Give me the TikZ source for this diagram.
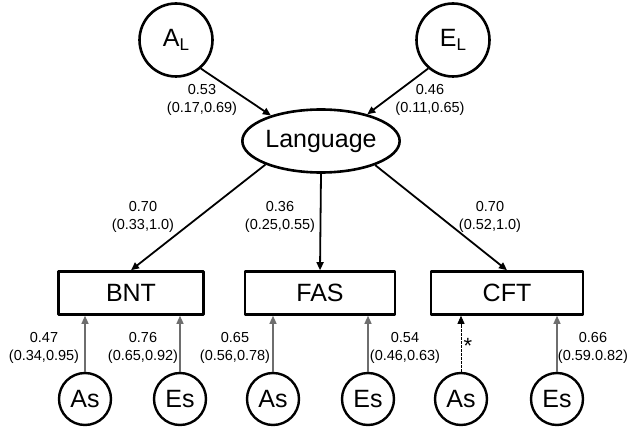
\documentclass[tikz,border=0pt]{standalone}
\usepackage{fontspec}
\setmainfont{Liberation Sans}
\usetikzlibrary{arrows.meta,shapes.geometric}
\definecolor{pathgray}{HTML}{6E6E6E}
\tikzset{
  every picture/.style={
    line join=round,
    >={Triangle[length=8pt,width=7pt]},  % small filled heads
  },
  latent/.style={draw, circle, line width=2.6pt, minimum size=73pt, inner sep=0pt,
    font=\fontsize{25}{30}\selectfont},
  factor/.style={draw, ellipse, line width=2.6pt, minimum width=148pt, minimum height=63pt,
    inner sep=0pt, font=\fontsize{25}{30}\selectfont},
  test/.style={draw, rectangle, line width=2.6pt, minimum height=43pt, inner sep=0pt,
    font=\fontsize{25}{30}\selectfont},
  resid/.style={draw, circle, line width=2.4pt, minimum size=52pt, inner sep=0pt,
    font=\fontsize{25}{30}\selectfont},
  load/.style={->, line width=1.8pt},
  spec/.style={->, pathgray, line width=1.3pt},
  est/.style={align=center, font=\fontsize{14.5}{18}\selectfont, inner sep=0pt},
}
\newcommand{\sub}[2]{#1\raisebox{-4pt}{\fontsize{17}{17}\selectfont #2}}

\begin{document}
\begin{tikzpicture}[x=1pt,y=1pt]
\useasboundingbox (0,0) rectangle (629,429);

% latent part
\node[latent] (AL) at (176,389) {\sub{A}{L}};
\node[latent] (EL) at (453,389) {\sub{E}{L}};
\node[factor] (lang) at (321,288) {Language};

% observed tests
\node[test, minimum width=145pt] (BNT) at (131,136) {BNT};
\node[test, minimum width=150pt] (FAS) at (320,136) {FAS};
\node[test, minimum width=152pt] (CFT) at (507,136) {CFT};

% test specific A and E
\node[resid] (AsB) at (85,30) {As};
\node[resid] (EsB) at (180,30) {Es};
\node[resid] (AsF) at (273,30) {As};
\node[resid] (EsF) at (368,30) {Es};
\node[resid] (AsC) at (461,30) {As};
\node[resid] (EsC) at (557,30) {Es};

\draw[load] (AL.-49) -- (lang.153);
\draw[load] (EL.229) -- (lang.30);
\draw[load] (lang.203) -- (BNT.north);
\draw[load] (lang.south) -- (FAS.north);
\draw[load] (lang.336) -- (CFT.north);

\draw[spec] (AsB.north) -- (AsB.north |- BNT.south);
\draw[spec] (EsB.north) -- (EsB.north |- BNT.south);
\draw[spec] (AsF.north) -- (AsF.north |- FAS.south);
\draw[spec] (EsF.north) -- (EsF.north |- FAS.south);
\draw[spec, black, line width=0.8pt, dash pattern=on 2.5pt off 1.5pt] (AsC.north) -- (AsC.north |- CFT.south);
\draw[spec] (EsC.north) -- (EsC.north |- CFT.south);

% estimates
\node[est] (eAL) at (202,329) {0.53\\(0.17,0.69)};
\node[est] (eEL) at (430,329) {0.46\\(0.11,0.65)};
\node[est] (eBNT) at (143,212) {0.70\\(0.33,1.0)};
\node[est] (eFAS) at (280,212) {0.36\\(0.25,0.55)};
\node[est] (eCFT) at (490,212) {0.70\\(0.52,1.0)};
\node[est] (eAsB) at (44,81) {0.47\\(0.34,0.95)};
\node[est] (eEsB) at (143,81) {0.76\\(0.65,0.92)};
\node[est] (eAsF) at (235,81) {0.65\\(0.56,0.78)};
\node[est] (eEsF) at (405,81) {0.54\\(0.46,0.63)};
\node[est, font=\fontsize{22}{22}\selectfont] (eAsC) at (468,83) {*};
\node[est] (eEsC) at (593,81) {0.66\\(0.59.0.82)};
\end{tikzpicture}
\end{document}
